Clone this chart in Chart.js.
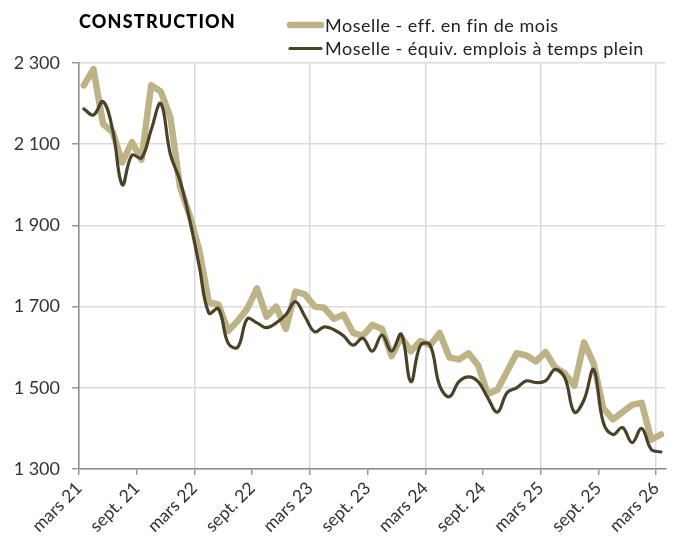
<!DOCTYPE html>
<html>
<head>
<meta charset="utf-8">
<script src="https://cdn.jsdelivr.net/npm/chart.js@4"></script>
<style>
  html, body { margin: 0; background: #fff; }
</style>
</head>
<body>
<canvas id="myChart" width="674" height="540"></canvas>
<script>
// months, mars 21 -> mars 26
const months = [
  "mars 21", "avr. 21", "mai 21", "juin 21", "juil. 21", "août 21", "sept. 21", "oct. 21", "nov. 21", "déc. 21", "janv. 22", "févr. 22",
  "mars 22", "avr. 22", "mai 22", "juin 22", "juil. 22", "août 22", "sept. 22", "oct. 22", "nov. 22", "déc. 22", "janv. 23", "févr. 23",
  "mars 23", "avr. 23", "mai 23", "juin 23", "juil. 23", "août 23", "sept. 23", "oct. 23", "nov. 23", "déc. 23", "janv. 24", "févr. 24",
  "mars 24", "avr. 24", "mai 24", "juin 24", "juil. 24", "août 24", "sept. 24", "oct. 24", "nov. 24", "déc. 24", "janv. 25", "févr. 25",
  "mars 25", "avr. 25", "mai 25", "juin 25", "juil. 25", "août 25", "sept. 25", "oct. 25", "nov. 25", "déc. 25", "janv. 26", "févr. 26",
  "mars 26"
];

const effFinMois = [
  2245, 2285, 2150, 2130, 2055, 2105, 2062, 2245, 2230, 2166, 1995, 1925,
  1840, 1710, 1705, 1640, 1665, 1695, 1745, 1675, 1700, 1645, 1737, 1730,
  1700, 1697, 1670, 1680, 1635, 1628, 1655, 1645, 1578, 1625, 1590, 1615,
  1605, 1635, 1575, 1570, 1585, 1555, 1485, 1495, 1540, 1585, 1580, 1565,
  1588, 1550, 1535, 1505, 1612, 1560, 1450, 1422, 1440, 1458, 1463, 1372,
  1385
];

const equivTempsPlein = [
  2187, 2172, 2205, 2135, 2000, 2073, 2066, 2135, 2200, 2075, 2010, 1915,
  1800, 1684, 1695, 1610, 1600, 1670, 1660, 1648, 1660, 1680, 1712, 1675,
  1638, 1650, 1643, 1628, 1605, 1622, 1590, 1630, 1590, 1632, 1515, 1605,
  1605, 1505, 1478, 1515, 1527, 1515, 1475, 1440, 1488, 1500, 1517, 1513,
  1517, 1545, 1525, 1440, 1470, 1545, 1415, 1385, 1402, 1365, 1400, 1348,
  1342
];

const lightColour = "#beb287";
const darkColour = "#4a4228";
const fontFamily = "Lato, 'Open Sans', sans-serif";

// points sit in the middle of their month
const toPoints = (values) => values.map((v, i) => ({ x: i + 0.5, y: v }));

const formatThousands = (v) =>
  v >= 1000 ? Math.floor(v / 1000) + " " + String(v % 1000).padStart(3, "0") : String(v);

// title + stacked legend
const header = {
  id: "header",
  afterDraw(chart) {
    const { ctx } = chart;
    ctx.save();
    ctx.textBaseline = "middle";
    ctx.font = "900 18px " + fontFamily;
    ctx.letterSpacing = "1.2px";
    ctx.fillStyle = "#000";
    ctx.fillText("CONSTRUCTION", 79, 22);

    ctx.letterSpacing = "0.5px";
    chart.data.datasets.forEach((ds, i) => {
      const y = 25 + i * 23.5;
      ctx.beginPath();
      ctx.lineCap = "round";
      ctx.lineWidth = ds.borderWidth;
      ctx.strokeStyle = ds.borderColor;
      ctx.moveTo(290, y);
      ctx.lineTo(321, y);
      ctx.stroke();
      ctx.font = "18px " + fontFamily;
      ctx.fillStyle = "#222";
      ctx.fillText(ds.label, 325, y + 1);
    });
    ctx.restore();
  },
};

const config = {
  type: "line",
  data: {
    datasets: [
      {
        label: "Moselle - eff. en fin de mois",
        data: toPoints(effFinMois),
        borderColor: lightColour,
        borderWidth: 6.5,
        tension: 0,
        borderCapStyle: "round",
        borderJoinStyle: "round",
        pointRadius: 0,
        order: 2,
      },
      {
        label: "Moselle - équiv. emplois à temps plein",
        data: toPoints(equivTempsPlein),
        borderColor: darkColour,
        borderWidth: 3.2,
        tension: 0.4,
        borderCapStyle: "round",
        borderJoinStyle: "round",
        pointRadius: 0,
        order: 1,
      },
    ],
  },
  options: {
    responsive: false,
    animation: false,
    devicePixelRatio: 1,
    layout: {
      padding: { top: 63, right: 1, left: 0, bottom: 0 },
    },
    plugins: {
      legend: { display: false },
      tooltip: { enabled: false },
    },
    scales: {
      x: {
        type: "linear",
        min: 0,
        max: 61,
        ticks: {
          stepSize: 6,
          includeBounds: false,
          autoSkip: false,
          maxRotation: 45,
          minRotation: 45,
          padding: 3,
          color: "#333",
          font: { family: fontFamily, size: 17.5 },
          callback: (v) => months[v],
        },
        grid: {
          color: (ctx) => (ctx.tick && ctx.tick.value % 12 === 0 ? "#d9d9d9" : "rgba(0,0,0,0)"),
          tickColor: "#999",
          tickLength: 6,
          lineWidth: 1.5,
        },
        border: { color: "#8c8c8c", width: 1.5 },
        afterFit: (scale) => {
          scale.height = 71;
        },
      },
      y: {
        min: 1300,
        max: 2300,
        ticks: {
          stepSize: 200,
          padding: 12,
          color: "#333",
          font: { family: fontFamily, size: 18 },
          callback: (v) => formatThousands(v),
        },
        grid: {
          color: "#dcdcdc",
          tickColor: "#999",
          tickLength: 7,
          lineWidth: 1.5,
        },
        border: { color: "#8c8c8c", width: 1.5 },
        afterFit: (scale) => {
          scale.width = 79;
        },
      },
    },
  },
  plugins: [header],
};

const myChart = new Chart(document.getElementById("myChart"), config);
</script>
</body>
</html>
